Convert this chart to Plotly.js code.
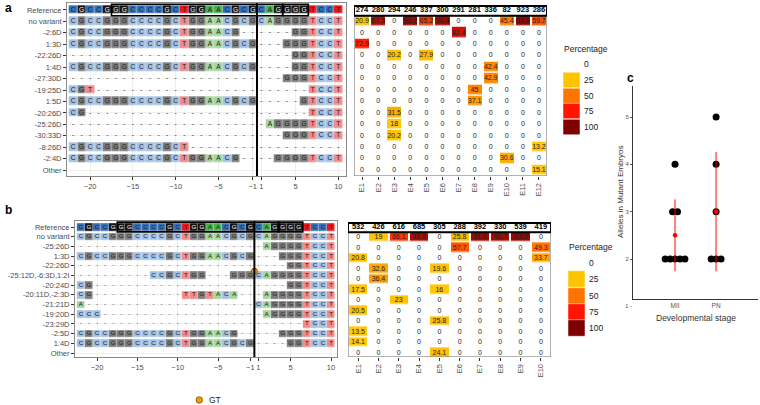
<!DOCTYPE html>
<html><head><meta charset="utf-8">
<script src="https://cdn.plot.ly/plotly-3.0.1.min.js"></script>
<style>html,body{margin:0;padding:0;background:#fff}#chart{width:760px;height:405px}</style>
</head><body><div id="chart"></div>
<script>
const FONT = 'Liberation Sans, Arial, sans-serif';

// ---------------- data ----------------
const positions = [-22,-21,-20,-19,-18,-17,-16,-15,-14,-13,-12,-11,-10,-9,-8,-7,-6,-5,-4,-3,-2,-1,1,2,3,4,5,6,7,8,9,10];
const posTicks = [-20,-15,-10,-5,-1,1,5,10];
const protospacer = [-17, 3];
const pamSite = [4, 6];

const rowLabelsA = ["Reference","no variant","-2:6D","1:3D","-22:26D","1:4D","-27:30D","-19:25D","1:5D","-20:26D","-25:26D","-30:33D","-8:26D","-2:4D","Other"];
const seqA = [
  "CGCCGGGCCCCGCTGGAACGCG"+"CAGGGGTCCT",
  "CGCCGGGCCCCGCTGGAACGCG"+"CAGGGGTCCT",
  "CGCCGGGCCCCGCTGGAACG--"+"----GGTCCT",
  "CGCCGGGCCCCGCTGGAACGCG"+"---GGGTCCT",
  "----------------------"+"----GGTCCT",
  "CGCCGGGCCCCGCTGGAACGCG"+"----GGTCCT",
  "----------------------"+"---GGGTCCT",
  "CGT-------------------"+"------TCCT",
  "CGCCGGGCCCCGCTGGAACGCG"+"-----GTCCT",
  "CG--------------------"+"------TCCT",
  "----------------------"+"-AGGGGTCCT",
  "----------------------"+"---GGGTCCT",
  "CGCCGGGCCCCGCT--------"+"----------",
  "CGCCGGGCCCCGCTGGAACG--"+"--GGGGTCCT",
  "                      "+"          "
];
const embryosA = ["E1","E2","E3","E4","E5","E6","E7","E8","E9","E10","E11","E12"];
const readsA = [274,280,294,246,337,300,291,281,336,82,923,286];
const pctA = [
  [20.9,87.5,0,93.2,65.2,90.4,0,0,0,45.4,94.5,59.7],
  [0,0,0,0,0,0,82.4,0,0,0,0,0],
  [72.9,0,0,0,0,0,0,0,0,0,0,0],
  [0,0,20.2,0,27.9,0,0,0,0,0,0,0],
  [0,0,0,0,0,0,0,0,42.4,0,0,0],
  [0,0,0,0,0,0,0,0,42.9,0,0,0],
  [0,0,0,0,0,0,0,45,0,0,0,0],
  [0,0,0,0,0,0,0,37.1,0,0,0,0],
  [0,0,31.5,0,0,0,0,0,0,0,0,0],
  [0,0,18,0,0,0,0,0,0,0,0,0],
  [0,0,20.2,0,0,0,0,0,0,0,0,0],
  [0,0,0,0,0,0,0,0,0,0,0,13.2],
  [0,0,0,0,0,0,0,0,0,30.6,0,0],
  [0,0,0,0,0,0,0,0,0,0,0,15.1]
];

const rowLabelsB = ["Reference","no variant","-25:26D","1:3D","-22:26D","-25:12D,-6:3D,1:2I","-20:24D","-20:11D,-2:3D","-21:21D","-19:20D","-23:29D","-2:5D","1:4D","Other"];
const seqB = [
  "CGCCGGGCCCCGCTGGAACGCG"+"CAGGGGTCCT",
  "CGCCGGGCCCCGCTGGAACGCG"+"CAGGGGTCCT",
  "----------------------"+"-AGGGGTCCT",
  "CGCCGGGCCCCGCTGGAACGCG"+"---GGGTCCT",
  "----------------------"+"----GGTCCT",
  "---------CCGCTGG---GGG"+"CAGGGGTCCT",
  "CG--------------------"+"----GGTCCT",
  "CG-----------TTGTACA--"+"-AGGGGTCCT",
  "A---------------------"+"CAGGGGTCCT",
  "CCC-------------------"+"-AGGGGTCCT",
  "----------------------"+"------TCCT",
  "CGCCGGGCCCCGCTGGAACG--"+"---GGGTCCT",
  "CGCCGGGCCCCGCTGGAACGCG"+"----GGTCCT",
  "                      "+"          "
];
const insertionRowB = "-25:12D,-6:3D,1:2I";
const insertionAfter = -1;
const insertionName = "GT";
const embryosB = ["E1","E2","E3","E4","E5","E6","E7","E8","E9","E10"];
const readsB = [532,426,616,685,305,288,392,330,539,419];
const pctB = [
  [0,19,66.1,88.6,0,25.8,91.6,90.7,93.9,0],
  [0,0,0,0,0,57.7,0,0,0,49.3],
  [20.8,0,0,0,0,0,0,0,0,33.7],
  [0,32.6,0,0,19.6,0,0,0,0,0],
  [0,36.4,0,0,0,0,0,0,0,0],
  [17.5,0,0,0,16,0,0,0,0,0],
  [0,0,23,0,0,0,0,0,0,0],
  [20.5,0,0,0,0,0,0,0,0,0],
  [0,0,0,0,25.8,0,0,0,0,0],
  [13.5,0,0,0,0,0,0,0,0,0],
  [14.1,0,0,0,0,0,0,0,0,0],
  [0,0,0,0,24.1,0,0,0,0,0]
];

const stages = ["MII","PN"];
const allelesMII = [4,3,3,2,2,2,2,2];
const allelesPN = [5,4,3,2,2,2];
const meanAlleles = [2.5, 3.0];
const sdAlleles = [0.76, 1.26];
const yTicksC = [2,3,4,5];

const legendBreaks = [0,25,50,75,100];
const legendColors = ['#FFFFFF','#FFC400','#FF7300','#FF1500','#800000'];

// ---------------- styles ----------------
const nucCode = {A:1,C:2,G:3,T:4};
const nucColors = ['#A6D69E','#A3C1E3','#7D7D7D','#F28A8A','#4CAF50','#3570B5','#141414','#E8191C'];
const seqColorscale = [];
nucColors.forEach((c,k)=>{ seqColorscale.push([k/8,c]); seqColorscale.push([(k+1)/8,c]); });
const pctColorscale = [[0,'#FFD21F'],[0.25,'#FFC000'],[0.5,'#FF7300'],[0.75,'#FF1500'],[1,'#7A0000']];

const W = 760, H = 405;
const px = v => v / W;
const py = v => 1 - v / H;
const idx = p => positions.indexOf(p);

const traces = [];

function addSeqPanel(seqs, xa, ya, ygap, letterSize) {
  const z = seqs.map((s,i) => s.split('').map(ch => nucCode[ch] ? nucCode[ch] + (i===0?4:0) : null));
  traces.push({type:'heatmap', x: positions.map((_,j)=>j), y: seqs.map((_,i)=>i), z,
    zmin:0.5, zmax:8.5, colorscale: seqColorscale, showscale:false, xgap:0.4, ygap: ygap,
    xaxis: xa, yaxis: ya, hoverinfo:'skip'});
  const tx=[], ty=[], tt=[], tc=[];
  seqs.forEach((s,i)=> s.split('').forEach((ch,j)=>{
    if (ch===' ') return;
    tx.push(j); ty.push(i); tt.push(ch);
    tc.push(i===0 && ch==='G' ? '#FFFFFF' : '#1A1A1A');
  }));
  traces.push({type:'scatter', mode:'text', x:tx, y:ty, text:tt,
    textfont:{family:FONT, size:letterSize, color:tc}, xaxis:xa, yaxis:ya, hoverinfo:'skip'});
}

function addPctPanel(pct, reads, emb, xa, ya) {
  traces.push({type:'heatmap', x: emb, y: pct.map((_,i)=>i+1),
    z: pct.map(r => r.map(v => v===0 ? null : v)), zmin:0, zmax:100,
    colorscale: pctColorscale, showscale:false, xgap:2, ygap:1.5, xaxis:xa, yaxis:ya, hoverinfo:'skip'});
  const tx=[], ty=[], tt=[];
  pct.forEach((r,i)=> r.forEach((v,j)=>{ tx.push(emb[j]); ty.push(i+1); tt.push(String(v)); }));
  traces.push({type:'scatter', mode:'text', x:tx, y:ty, text:tt,
    textfont:{family:FONT, size:7, color:'#222'}, xaxis:xa, yaxis:ya, hoverinfo:'skip'});
  traces.push({type:'scatter', mode:'text', x:emb, y:emb.map(()=>0), text:reads.map(String),
    textfont:{family:FONT, size:7.5, color:'#000', weight:'bold'}, xaxis:xa, yaxis:ya, hoverinfo:'skip'});
}

addSeqPanel(seqA, 'x', 'y', 3.2, 6.5);
addPctPanel(pctA, readsA, embryosA, 'x2', 'y2');
addSeqPanel(seqB, 'x3', 'y3', 2.2, 6.2);
addPctPanel(pctB, readsB, embryosB, 'x4', 'y4');

// insertion marker
const insRow = rowLabelsB.indexOf(insertionRowB);
traces.push({type:'scatter', mode:'markers', x:[idx(insertionAfter)+0.5], y:[insRow-0.45],
  marker:{size:6, color:'#E69F00', line:{color:'#7a5200', width:0.8}}, xaxis:'x3', yaxis:'y3', hoverinfo:'skip'});

// panel c dots
function dotPositions(vals, center, step) {
  const groups = {};
  vals.forEach(v => { groups[v] = (groups[v]||0) + 1; });
  const xs=[], ys=[];
  Object.keys(groups).forEach(k => {
    const n = groups[k];
    for (let i=0;i<n;i++){ xs.push(center + (i-(n-1)/2)*step); ys.push(Number(k)); }
  });
  return {xs, ys};
}
const dM = dotPositions(allelesMII, 1, 0.12);
const dP = dotPositions(allelesPN, 2, 0.12);
traces.push({type:'scatter', mode:'markers', x: dM.xs.concat(dP.xs), y: dM.ys.concat(dP.ys),
  marker:{size:7, color:'#000'}, xaxis:'x5', yaxis:'y5', hoverinfo:'skip'});
traces.push({type:'scatter', mode:'markers', x:[1,2], y:meanAlleles,
  error_y:{type:'data', array:sdAlleles, visible:true, width:0, thickness:2, color:'rgba(255,0,0,0.5)'},
  marker:{size:4.5, color:'#FF0000'}, xaxis:'x5', yaxis:'y5', hoverinfo:'skip'});

// ---------------- layout ----------------
const tickFont = {family:FONT, size:7.5, color:'#4D4D4D'};
const seqX = (dom, range, anchor) => ({domain:dom, range:range, anchor:anchor,
  tickmode:'array', tickvals: posTicks.map(idx), ticktext: posTicks.map(p => p<0 ? '\u2212'+(-p) : String(p)),
  tickangle:0, ticks:'outside', ticklen:3, tickcolor:'#333', tickfont:tickFont, showgrid:true, gridcolor:'#EBEBEB', gridwidth:0.8,
  zeroline:false, showline:true, mirror:true, linecolor:'#8A8A8A', linewidth:1, automargin:false, fixedrange:true});
const seqY = (dom, range, anchor, labels) => ({domain:dom, range:range, anchor:anchor,
  tickmode:'array', tickvals: labels.map((_,i)=>i), ticktext: labels,
  ticks:'outside', ticklen:3, tickcolor:'#333', tickfont:tickFont, showgrid:true, gridcolor:'#EBEBEB', gridwidth:0.8,
  zeroline:false, showline:true, mirror:true, linecolor:'#8A8A8A', linewidth:1, automargin:false, fixedrange:true});
const heatX = (dom, n, anchor) => ({domain:dom, range:[-0.5, n-0.5], anchor:anchor, type:'category',
  tickangle:-90, ticks:'outside', ticklen:3, tickcolor:'#333', tickfont:tickFont,
  showgrid:false, zeroline:false, showline:false, automargin:false, fixedrange:true});
const heatY = (dom, range, anchor) => ({domain:dom, range:range, anchor:anchor, showticklabels:false, ticks:'',
  showgrid:false, zeroline:false, showline:false, automargin:false, fixedrange:true});

const domYa = [py(176), py(3)];
const rangeYa = [14.52, -0.61];
const domYb = [py(357), py(221)];
const rangeYb = [13.41, -0.62];
const rangeYbh = [12.38, -0.58];

const shapes = [];
const cutA = idx(-1) + 0.5;
shapes.push({type:'line', xref:'x', yref:'y', x0:cutA, x1:cutA, y0:rangeYa[0], y1:rangeYa[1], line:{color:'#000', width:2}});
shapes.push({type:'line', xref:'x3', yref:'y3', x0:cutA, x1:cutA, y0:rangeYb[0], y1:rangeYb[1], line:{color:'#000', width:2}});
[['x','y'],['x3','y3']].forEach(([xr,yr])=>{
  shapes.push({type:'rect', xref:xr, yref:yr, x0:idx(protospacer[0])-0.5, x1:idx(protospacer[1])+0.5, y0:-0.5, y1:0.5, line:{color:'#000', width:1.6}});
  shapes.push({type:'rect', xref:xr, yref:yr, x0:idx(pamSite[0])-0.5, x1:idx(pamSite[1])+0.5, y0:-0.5, y1:0.5, line:{color:'#000', width:1.6}});
});
// heatmap frames & header boxes
shapes.push({type:'rect', xref:'x2', yref:'y2', x0:-0.5, x1:embryosA.length-0.5, y0:0.5, y1:rangeYa[0], line:{color:'#666', width:1}});
shapes.push({type:'rect', xref:'x2', yref:'y2', x0:-0.5, x1:embryosA.length-0.5, y0:-0.35, y1:0.5, line:{color:'#000', width:2}});
shapes.push({type:'rect', xref:'x4', yref:'y4', x0:-0.5, x1:embryosB.length-0.5, y0:0.5, y1:rangeYbh[0], line:{color:'#666', width:1}});
shapes.push({type:'rect', xref:'x4', yref:'y4', x0:-0.5, x1:embryosB.length-0.5, y0:-0.4, y1:0.5, line:{color:'#000', width:2}});

const annotations = [];
const ann = (text, x, y, opts={}) => annotations.push(Object.assign({text, x:px(x), y:py(y), xref:'paper', yref:'paper',
  showarrow:false, xanchor:'left', yanchor:'middle', font:{family:FONT, size:8.5, color:'#222'}}, opts));

// legends
function addLegend(x0, x1, centers, h, titleY, titleX, labelX) {
  ann('Percentage', titleX, titleY);
  legendBreaks.forEach((b,i)=>{
    if (i>0) shapes.push({type:'rect', xref:'paper', yref:'paper', x0:px(x0), x1:px(x1), y0:py(centers[i]+h/2), y1:py(centers[i]-h/2),
      fillcolor:legendColors[i], line:{width:0.5, color:'#fff'}});
    ann(String(b), labelX, centers[i]);
  });
}
addLegend(563, 580, [64,80,96,111,127], 15.5, 49, 562, 582);
addLegend(568, 585, [263,279,296,312,328], 16.5, 247, 567, 587);

// panel labels
ann('<b>a</b>', 3, 8, {font:{family:FONT, size:12, color:'#000'}});
ann('<b>b</b>', 3, 210, {font:{family:FONT, size:12, color:'#000'}});
ann('<b>c</b>', 625, 78, {font:{family:FONT, size:12, color:'#000'}});

// panel c titles
ann('Alleles in Mutant Embryos', 620, 192, {textangle:-90, xanchor:'center', font:{family:FONT, size:8, color:'#333'}});
ann('Developmental stage', 696, 318, {xanchor:'center', font:{family:FONT, size:8.5, color:'#333'}});
ann('1 -', 634, 306, {xanchor:'right', font:{family:FONT, size:6, color:'#555'}});

// GT legend
shapes.push({type:'circle', xref:'paper', yref:'paper', x0:px(196), x1:px(202.5), y0:py(403.2), y1:py(396.7),
  fillcolor:'#E69F00', line:{color:'#7a5200', width:0.8}});
ann(insertionName, 207, 400, {font:{family:FONT, size:8.5, color:'#222'}});

const layout = {
  width:W, height:H, margin:{l:0,r:0,t:0,b:0}, paper_bgcolor:'#fff', plot_bgcolor:'#fff', showlegend:false,
  font:{family:FONT, size:8, color:'#333'},
  xaxis: seqX([px(67), px(346)], [-0.7, 31.9], 'y'),
  yaxis: seqY(domYa, rangeYa, 'x', rowLabelsA),
  xaxis2: heatX([px(354), px(547)], embryosA.length, 'y2'),
  yaxis2: heatY(domYa, rangeYa, 'x2'),
  xaxis3: seqX([px(75), px(337)], [-0.73, 31.74], 'y3'),
  yaxis3: seqY(domYb, rangeYb, 'x3', rowLabelsB),
  xaxis4: heatX([px(348), px(551)], embryosB.length, 'y4'),
  yaxis4: heatY(domYb, rangeYbh, 'x4'),
  xaxis5: {domain:[px(633), px(758)], range:[-0.024, 3.02], anchor:'y5', tickmode:'array', tickvals:[1,2], ticktext:stages,
    tickangle:0, ticks:'', tickfont:{family:FONT, size:6.5, color:'#555'}, showgrid:false, zeroline:false, showline:true,
    linecolor:'#333', linewidth:1, automargin:false, fixedrange:true},
  yaxis5: {domain:[py(299), py(86)], range:[1.155, 5.655], anchor:'x5', tickmode:'array', tickvals:yTicksC,
    ticks:'outside', ticklen:2, tickcolor:'#555', tickfont:{family:FONT, size:6, color:'#555'}, showgrid:false, zeroline:false,
    showline:true, linecolor:'#333', linewidth:1, automargin:false, fixedrange:true},
  shapes, annotations
};

Plotly.newPlot('chart', traces, layout, {staticPlot:true, displayModeBar:false});
</script></body></html>
